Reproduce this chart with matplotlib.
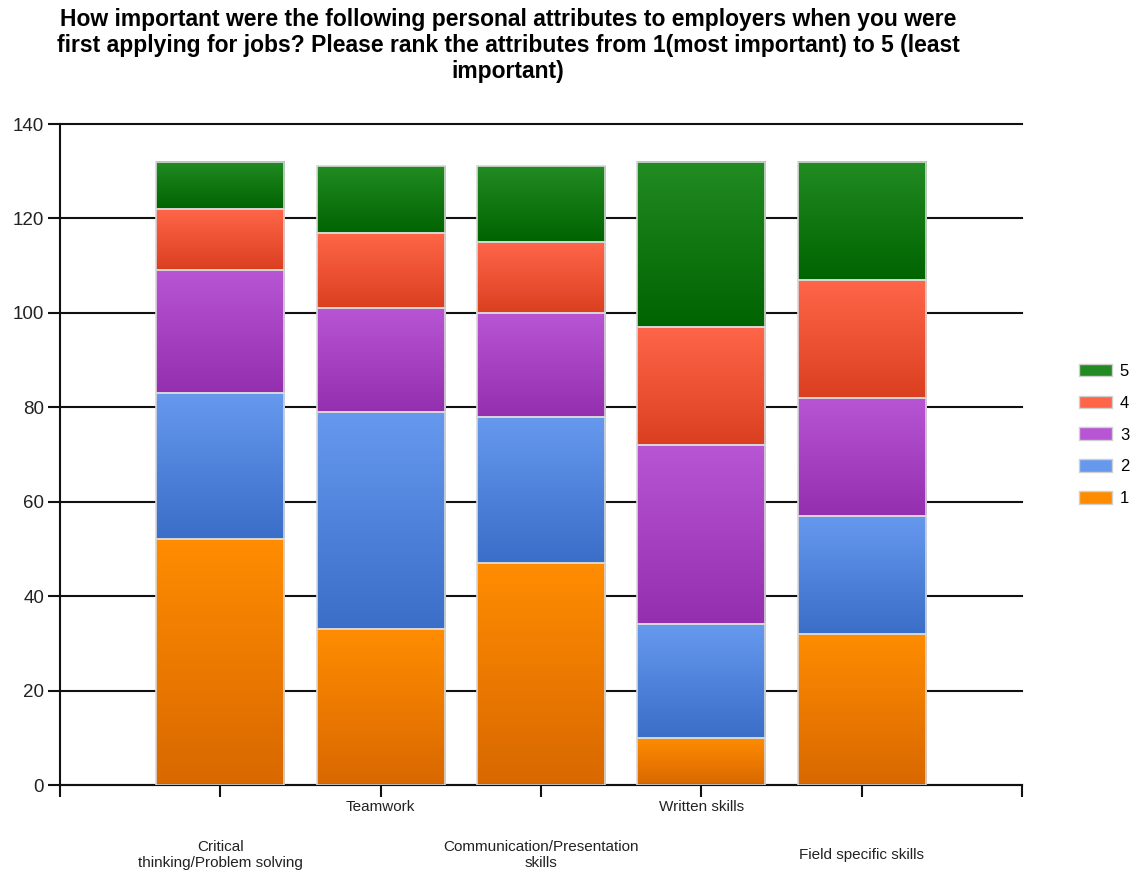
import numpy as np
import matplotlib.pyplot as plt
from matplotlib.colors import LinearSegmentedColormap
from matplotlib.patches import Patch
import matplotlib.transforms as mtransforms

plt.rcParams['font.family'] = ['Liberation Sans', 'DejaVu Sans']

# === Datos ===
categorias = ["Critical\nthinking/Problem solving", "Teamwork",
              "Communication/Presentation\nskills", "Written skills",
              "Field specific skills"]
rangos = ["1", "2", "3", "4", "5"]
rango_1 = [52, 33, 47, 10, 32]
rango_2 = [31, 46, 31, 24, 25]
rango_3 = [26, 22, 22, 38, 25]
rango_4 = [13, 16, 15, 25, 25]
rango_5 = [10, 14, 16, 35, 25]
series = [rango_1, rango_2, rango_3, rango_4, rango_5]

# colores (arriba claro, abajo oscuro)
grad = [("#ff8c00", "#d96800"),
        ("#6699ee", "#3a6ec8"),
        ("#b855d4", "#9430b0"),
        ("#ff6548", "#da4020"),
        ("#228b22", "#006400")]

fig = plt.figure(figsize=(11.37, 8.74), dpi=100)
ax = fig.add_axes([60/1137, 1-785/874, (1022-60)/1137, (785-124)/874])

x = np.arange(1, len(categorias) + 1)
base = np.zeros(len(categorias))
for vals, (c_top, c_bot) in zip(series, grad):
    cmap = LinearSegmentedColormap.from_list("g", [c_top, c_bot])
    bars = ax.bar(x, vals, bottom=base, width=0.8, facecolor="none",
                  edgecolor="#d8d8d8", linewidth=1.2, zorder=3)
    for b in bars:
        x0, y0 = b.get_x(), b.get_y()
        x1, y1 = x0 + b.get_width(), y0 + b.get_height()
        # fila 0 (color claro) arriba del segmento
        ax.imshow(np.linspace(0, 1, 64).reshape(-1, 1), cmap=cmap,
                  extent=(x0, x1, y0, y1), origin="upper",
                  aspect="auto", zorder=2)
    base += np.array(vals)

ax.set_xlim(0, 6)
ax.set_ylim(0, 140)
ax.set_yticks(range(0, 141, 20))
ax.set_xticks(range(0, 7))
ax.set_xticklabels([])
ax.yaxis.grid(True, color="#111111", linewidth=1.5, zorder=0)
for gl in ax.get_ygridlines():
    gl.set_clip_on(False)
ax.set_axisbelow(True)
for s in ["top", "right"]:
    ax.spines[s].set_visible(False)
for s in ["left", "bottom"]:
    ax.spines[s].set_color("#111111")
    ax.spines[s].set_linewidth(1.5)
ax.tick_params(axis="y", length=8.5, width=1.5, color="#111111",
               labelsize=13.5, labelcolor="#222222", pad=3)
ax.tick_params(axis="x", length=8.5, width=1.5, color="#111111")

# etiquetas del eje x escalonadas
trans = mtransforms.blended_transform_factory(ax.transData, fig.transFigure)
for i, cat in enumerate(categorias):
    if i % 2 == 1:
        ax.text(x[i], 1-807/874, cat, transform=trans, ha="center",
                va="center", fontsize=11, color="#222222")
    else:
        ax.text(x[i], 1-855/874, cat, transform=trans, ha="center",
                va="center", fontsize=11, color="#222222", linespacing=1.15)

fig.text(508/1137, 1-8/874,
         "How important were the following personal attributes to employers when you were\n"
         "first applying for jobs? Please rank the attributes from 1(most important) to 5 (least\n"
         "important)",
         ha="center", va="top", fontsize=16.5, fontweight="bold",
         linespacing=1.16)

handles = [Patch(facecolor=grad[i][0], edgecolor="#d0d0d0", label=rangos[i])
           for i in range(4, -1, -1)]
fig.legend(handles=handles, loc="center left",
           bbox_to_anchor=(1079/1137, 1-435/874), frameon=False,
           borderpad=0, borderaxespad=0,
           fontsize=12, handlelength=1.95, handleheight=0.8,
           labelspacing=1.0, handletextpad=0.5)

plt.savefig("out.png", dpi=100)
